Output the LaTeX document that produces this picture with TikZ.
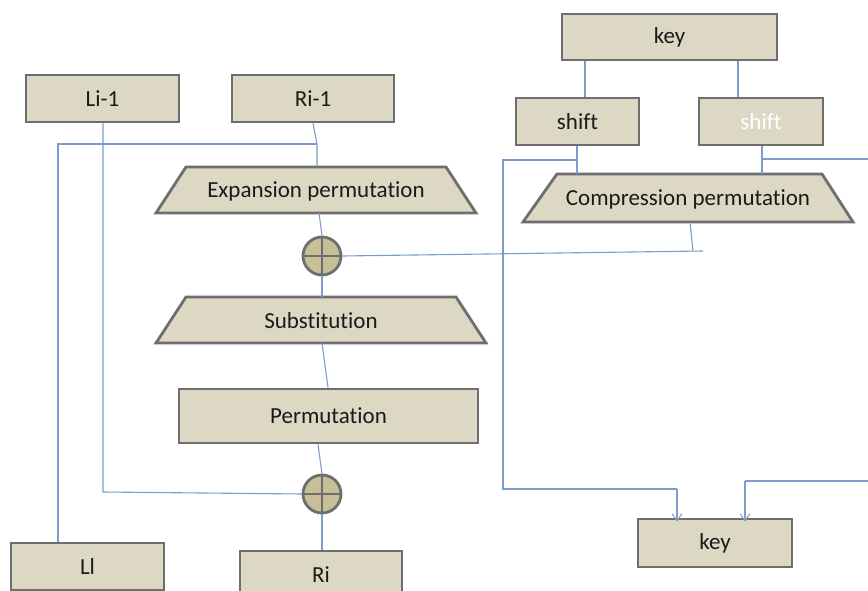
\documentclass[tikz,border=0pt]{standalone}
\usepackage{fontspec}
\setmainfont{Carlito}[Ligatures=NoCommon]
\usetikzlibrary{arrows.meta,calc}
\definecolor{boxfill}{HTML}{DDD8C4}
\definecolor{boxline}{HTML}{6E6E6E}
\definecolor{xorfill}{HTML}{C8BE98}
\definecolor{wire}{HTML}{7C9CCB}
\definecolor{txt}{HTML}{1A1A1A}
\begin{document}
\begin{tikzpicture}[x=1pt,y=-1pt,
  box/.style={draw=boxline,fill=boxfill,line width=2.8pt,inner sep=0pt,
    font=\fontsize{23}{26}\selectfont,text=txt},
  trap/.style={draw=boxline,fill=boxfill,line width=2.8pt,line join=miter},
  lbl/.style={inner sep=0pt,font=\fontsize{23}{26}\selectfont,text=txt},
  xorc/.style={circle,draw=boxline,fill=xorfill,line width=2.8pt,minimum size=38pt,inner sep=0pt},
  wirel/.style={draw=wire,line width=1.1pt},
  arr/.style={wirel,-{Straight Barb[length=7pt,width=10pt,line width=1pt]}}]
\useasboundingbox (0,0) rectangle (868,591);
\fill[white] (0,0) rectangle (868,591);

% left / data path boxes
\node[box,minimum width=153pt,minimum height=47pt] (li1) at (102.5,98.5) {Li-1};
\node[box,minimum width=162pt,minimum height=47pt] (ri1) at (313,98.5) {Ri-1};

% expansion trapezoid
\draw[trap] (156,213) -- (186,167) -- (446,167) -- (476,213) -- cycle;
\node[lbl,minimum width=320pt,minimum height=46pt] (exp) at (316,191) {Expansion permutation};

\node[xorc] (x1) at (322,256) {};
\draw[boxline,line width=2.8pt] (x1.north) -- (x1.south) (x1.west) -- (x1.east);

% substitution trapezoid
\draw[trap] (156,343) -- (186,297) -- (456,297) -- (486,343) -- cycle;
\node[lbl,minimum width=330pt,minimum height=46pt] (sub) at (321,321) {Substitution};

\node[box,minimum width=299pt,minimum height=54pt] (perm) at (328.5,416) {Permutation};

\node[xorc] (x2) at (322,494) {};
\draw[boxline,line width=2.8pt] (x2.north) -- (x2.south) (x2.west) -- (x2.east);

\node[box,minimum width=153pt,minimum height=47pt] (li) at (87.5,566.5) {Ll};
\node[box,minimum width=162pt,minimum height=47pt] (ri) at (321,574.5) {Ri};

% key schedule
\node[box,minimum width=215pt,minimum height=46pt] (key) at (669.5,37) {key};
\node[box,minimum width=123pt,minimum height=47pt] (sh1) at (577.5,121.5) {shift};
\node[box,minimum width=124pt,minimum height=47pt,text=white] (sh2) at (761,121.5) {shift};

\draw[trap] (523,222) -- (557,174) -- (822,174) -- (853,222) -- cycle;
\node[lbl,minimum width=330pt,minimum height=48pt] (comp) at (688,199) {Compression permutation};

\node[box,minimum width=154pt,minimum height=48pt] (key2) at (715,543) {key};

% helper coordinates
\coordinate (a1) at (317,144);
\coordinate (a2) at (58,144);
\coordinate (b1) at (103,492);
\coordinate (c1) at (577,160);
\coordinate (c2) at (503,160);
\coordinate (c3) at (503,489);
\coordinate (c4) at (677,489);
\coordinate (d1) at (762,159);
\coordinate (d2) at (868,159);
\coordinate (e1) at (868,481);
\coordinate (e2) at (745,481);
\coordinate (f1) at (693,251);
\coordinate (f2) at (703,251);

% wires, data path
\draw[wirel] (ri1.south) -- (a1) -- (317,167);
\draw[wirel] (a1) -- (a2) -- (a2 |- li.north);
\draw[wirel] (319,213) -- (x1.north);
\draw[wirel] (li1.south -| b1) -- (b1) -- (x2.west);
\draw[wirel] (x1.south) -- (x1 |- 0,297);
\draw[wirel] (322,343) -- (perm.north -| 328,0);
\draw[wirel] (perm.south -| 318,0) -- (x2.north);
\draw[wirel] (x2.south) -- (ri.north -| x2);

% wires, key path
\draw[wirel] (key.south -| 585,0) -- (sh1.north -| 585,0);
\draw[wirel] (key.south -| 738,0) -- (sh2.north -| 738,0);
\draw[wirel] (sh1.south -| c1) -- (c1 |- 0,174);
\draw[wirel] (sh2.south -| d1) -- (d1 |- 0,174);
\draw[wirel] (c1) -- (c2) -- (c3) -- (c4);
\draw[arr] (c4) -- ($(key2.north -| c4)+(0,4)$);
\draw[wirel] (d1) -- (d2);
\draw[wirel] (e1) -- (e2);
\draw[arr] (e2) -- ($(key2.north -| e2)+(0,4)$);
\draw[wirel] (690,222) -- (f1);
\draw[wirel] (f2) -- (x1.east);
\end{tikzpicture}
\end{document}
